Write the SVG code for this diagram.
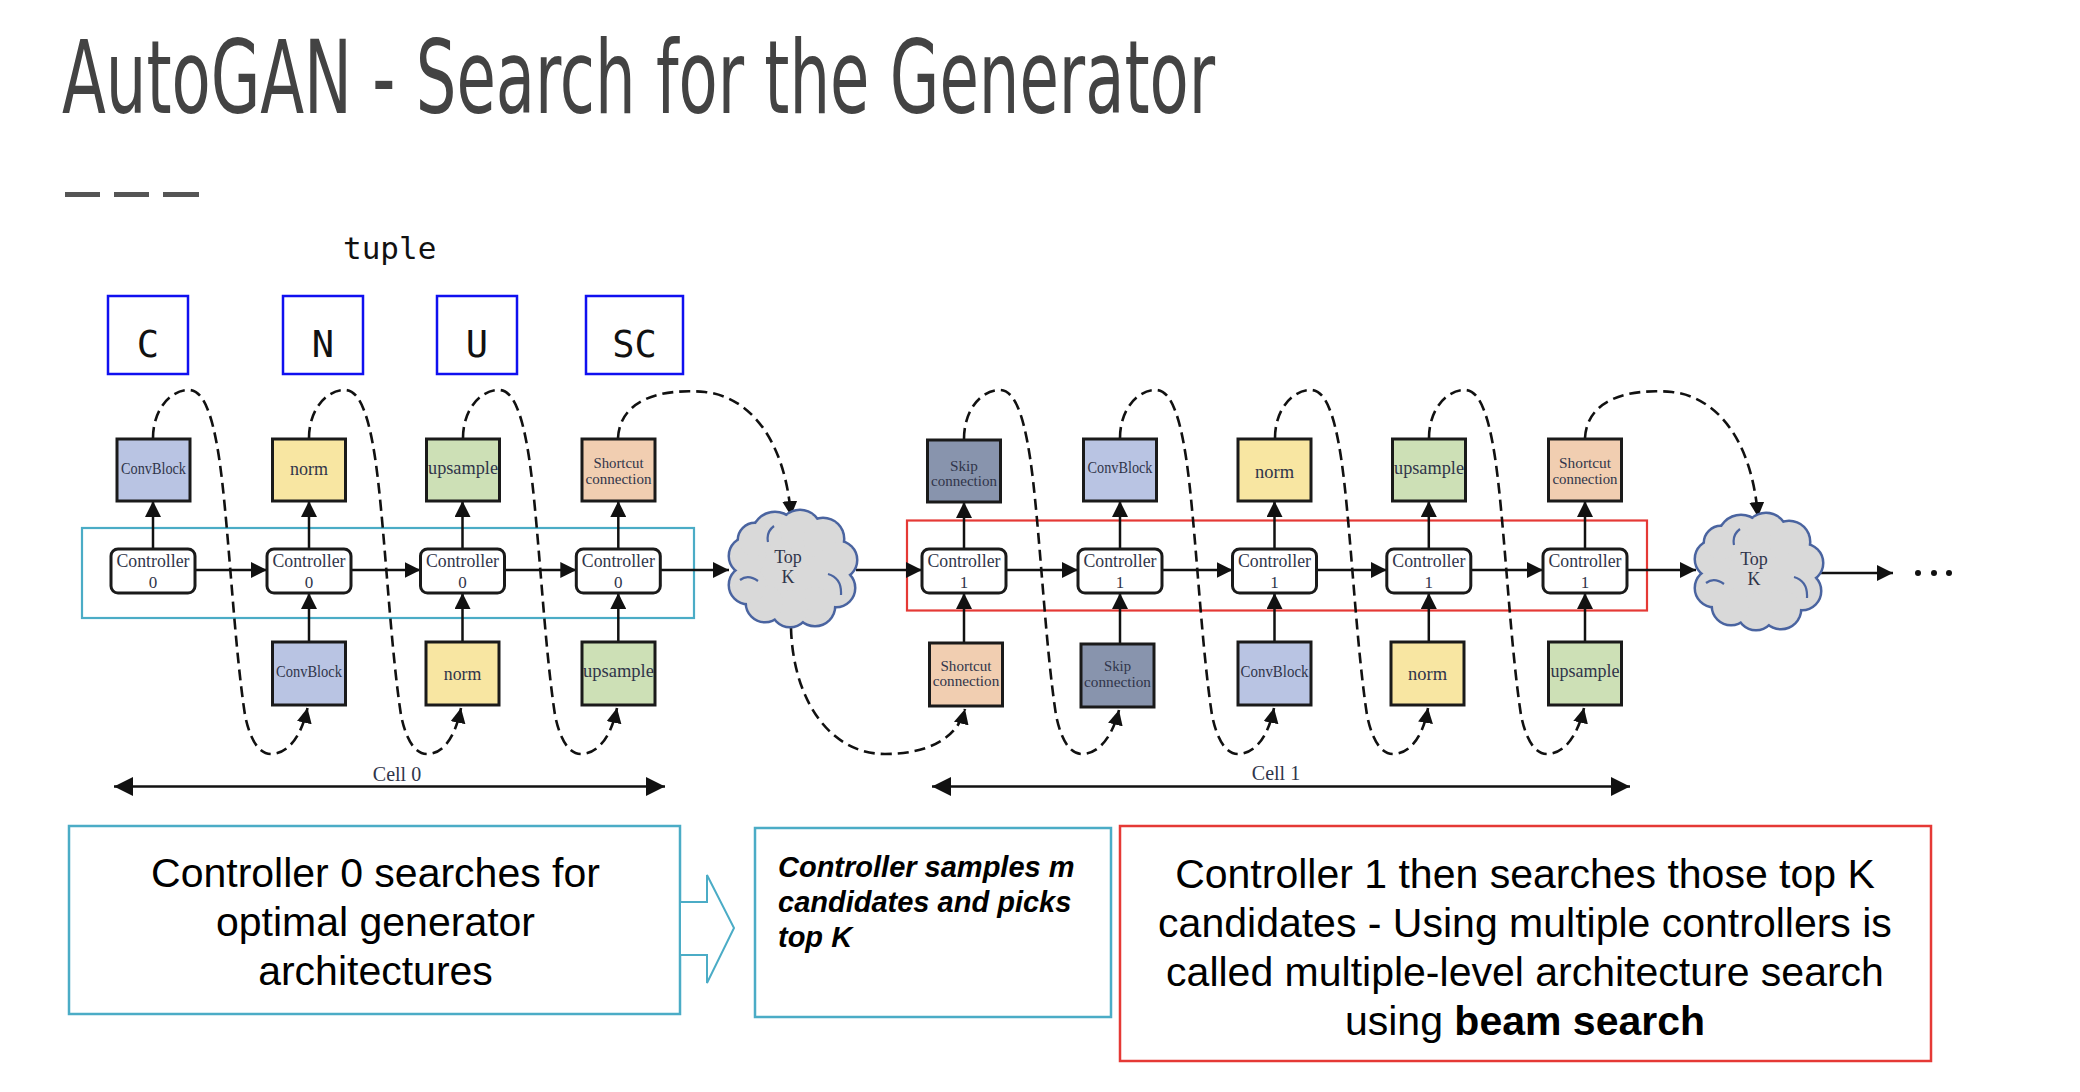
<svg xmlns="http://www.w3.org/2000/svg" xmlns:xlink="http://www.w3.org/1999/xlink" width="2080" height="1092" viewBox="0 0 2080 1092">
<style>
.title{font-family:"Liberation Sans Narrow","DejaVu Sans Condensed","Roboto","Liberation Sans",sans-serif;fill:#434343}
.mono{font-family:"DejaVu Sans Mono","Liberation Mono",monospace;fill:#111}
.tbox{fill:#fff;stroke:#1010f0;stroke-width:2.5}
.blk{stroke:#1a1a1a;stroke-width:3}
.ctrl{fill:#fff;stroke:#1a1a1a;stroke-width:3}
.serif{font-family:"Liberation Serif","DejaVu Serif",serif;fill:#30354a;text-anchor:middle}
.conv{fill:#b9c4e3}
.norm{fill:#f8e6a2}
.up{fill:#cde0b6}
.sc{fill:#f1ceb1}
.skip{fill:#8894ad}
.line{fill:none;stroke:#111;stroke-width:2.5}
.dash{fill:none;stroke:#111;stroke-width:2.6;stroke-dasharray:11 6}
.sans{font-family:"Liberation Sans",Arial,sans-serif;fill:#000}
</style>
<defs>
<marker id="ah" viewBox="0 0 10 10" refX="10" refY="5" markerUnits="userSpaceOnUse" markerWidth="16" markerHeight="16" orient="auto"><path d="M0,0 L10,5 L0,10 z" fill="#111"/></marker>
<marker id="ahd" viewBox="0 0 10 10" refX="10" refY="5" markerUnits="userSpaceOnUse" markerWidth="15" markerHeight="15" orient="auto"><path d="M0,0 L10,5 L0,10 z" fill="#111"/></marker>
<marker id="ahc" viewBox="0 0 10 10" refX="10" refY="5" markerUnits="userSpaceOnUse" markerWidth="19" markerHeight="19" orient="auto-start-reverse"><path d="M0,0 L10,5 L0,10 z" fill="#111"/></marker>
<g id="cloudShape">
<g fill="#d9d9d9" stroke="#4a64a0" stroke-width="5">
<circle cx="0" cy="0" r="44"/><circle cx="-17" cy="-33" r="22"/><circle cx="8" cy="-37" r="20"/><circle cx="31" cy="-29" r="20"/><circle cx="46" cy="-8" r="18"/><circle cx="44" cy="20" r="18"/><circle cx="23" cy="38" r="19"/><circle cx="-2" cy="40" r="18"/><circle cx="-27" cy="35" r="18"/><circle cx="-44" cy="17" r="18"/><circle cx="-44" cy="-12" r="18"/><circle cx="-37" cy="-28" r="16"/>
</g>
<g fill="#d9d9d9">
<circle cx="0" cy="0" r="44"/><circle cx="-17" cy="-33" r="22"/><circle cx="8" cy="-37" r="20"/><circle cx="31" cy="-29" r="20"/><circle cx="46" cy="-8" r="18"/><circle cx="44" cy="20" r="18"/><circle cx="23" cy="38" r="19"/><circle cx="-2" cy="40" r="18"/><circle cx="-27" cy="35" r="18"/><circle cx="-44" cy="17" r="18"/><circle cx="-44" cy="-12" r="18"/><circle cx="-37" cy="-28" r="16"/>
</g>
<path d="M36,6 Q50,10 49,27 M-52,12 Q-44,6 -34,13 M-24,-26 Q-26,-36 -18,-42" fill="none" stroke="#4a64a0" stroke-width="2.2"/>
</g>
</defs>
<rect width="2080" height="1092" fill="#fff"/>

<g id="header">
<text class="title" x="62" y="113" font-size="102" textLength="1153" lengthAdjust="spacingAndGlyphs">AutoGAN - Search for the Generator</text>
<rect x="65" y="192" width="35" height="5" fill="#555"/>
<rect x="114" y="192" width="35" height="5" fill="#555"/>
<rect x="163" y="192" width="36" height="5" fill="#555"/>
<text class="mono" x="343" y="259" font-size="31">tuple</text>
</g>

<g id="tuple-C"><rect class="tbox" x="108" y="296" width="80" height="78"/><text class="mono" x="148" y="357" font-size="37" text-anchor="middle">C</text></g>
<g id="tuple-N"><rect class="tbox" x="283" y="296" width="80" height="78"/><text class="mono" x="323" y="357" font-size="37" text-anchor="middle">N</text></g>
<g id="tuple-U"><rect class="tbox" x="437" y="296" width="80" height="78"/><text class="mono" x="477" y="357" font-size="37" text-anchor="middle">U</text></g>
<g id="tuple-SC"><rect class="tbox" x="586" y="296" width="97" height="78"/><text class="mono" x="634.5" y="357" font-size="37" text-anchor="middle">SC</text></g>

<g id="frames">
<rect x="82" y="528" width="612" height="90" fill="none" stroke="#4bacc6" stroke-width="2.2"/>
<rect x="907" y="520.5" width="740" height="90" fill="none" stroke="#e53935" stroke-width="2.2"/>
</g>

<g id="connectors">
<line class="line" x1="195" y1="570" x2="267" y2="570" marker-end="url(#ah)"/>
<line class="line" x1="351" y1="570" x2="420.5" y2="570" marker-end="url(#ah)"/>
<line class="line" x1="504.5" y1="570" x2="576.3" y2="570" marker-end="url(#ah)"/>
<line class="line" x1="660.3" y1="570" x2="729" y2="570" marker-end="url(#ah)"/>
<line class="line" x1="856" y1="570" x2="922" y2="570" marker-end="url(#ah)"/>
<line class="line" x1="1006" y1="570" x2="1078" y2="570" marker-end="url(#ah)"/>
<line class="line" x1="1162" y1="570" x2="1232.5" y2="570" marker-end="url(#ah)"/>
<line class="line" x1="1316.5" y1="570" x2="1386.8" y2="570" marker-end="url(#ah)"/>
<line class="line" x1="1470.8" y1="570" x2="1543" y2="570" marker-end="url(#ah)"/>
<line class="line" x1="1627" y1="570" x2="1696" y2="570" marker-end="url(#ah)"/>
<line class="line" x1="1821" y1="573" x2="1893" y2="573" marker-end="url(#ah)"/>
<line class="line" x1="153" y1="549" x2="153" y2="501" marker-end="url(#ah)"/>
<line class="line" x1="309" y1="549" x2="309" y2="501" marker-end="url(#ah)"/>
<line class="line" x1="462.5" y1="549" x2="462.5" y2="501" marker-end="url(#ah)"/>
<line class="line" x1="618.3" y1="549" x2="618.3" y2="501" marker-end="url(#ah)"/>
<line class="line" x1="964" y1="549" x2="964" y2="502" marker-end="url(#ah)"/>
<line class="line" x1="1120" y1="549" x2="1120" y2="501" marker-end="url(#ah)"/>
<line class="line" x1="1274.5" y1="549" x2="1274.5" y2="501" marker-end="url(#ah)"/>
<line class="line" x1="1428.8" y1="549" x2="1428.8" y2="501" marker-end="url(#ah)"/>
<line class="line" x1="1585" y1="549" x2="1585" y2="501" marker-end="url(#ah)"/>
<line class="line" x1="309" y1="642" x2="309" y2="593" marker-end="url(#ah)"/>
<line class="line" x1="462.5" y1="642" x2="462.5" y2="593" marker-end="url(#ah)"/>
<line class="line" x1="618.3" y1="642" x2="618.3" y2="593" marker-end="url(#ah)"/>
<line class="line" x1="964" y1="643" x2="964" y2="593" marker-end="url(#ah)"/>
<line class="line" x1="1120" y1="644" x2="1120" y2="593" marker-end="url(#ah)"/>
<line class="line" x1="1274.5" y1="642" x2="1274.5" y2="593" marker-end="url(#ah)"/>
<line class="line" x1="1428.8" y1="642" x2="1428.8" y2="593" marker-end="url(#ah)"/>
<line class="line" x1="1585" y1="642" x2="1585" y2="593" marker-end="url(#ah)"/>
<path class="dash" marker-end="url(#ahd)" d="M153,438 C153,410 170,390 189,390 C205,390 215,420 222,480 C230,550 235,650 245,715 C250,740 259,754 271,754 C287,754 301,738 307.5,708"/>
<path class="dash" marker-end="url(#ahd)" d="M309,438 C309,410 326,390 345,390 C361,390 371,420 378,480 C386,550 391,650 401,715 C406,740 415,754 427,754 C443,754 455,738 461,708"/>
<path class="dash" marker-end="url(#ahd)" d="M463,438 C463,410 480,390 499,390 C515,390 525,420 532,480 C540,550 545,650 555,715 C560,740 569,754 581,754 C597,754 611,738 617,708"/>
<path class="dash" marker-end="url(#ahd)" d="M618,438 C620,400 660,388 705,392 C750,397 785,440 791,516"/>
<path class="dash" marker-end="url(#ahd)" d="M791,628 C793,700 830,754 885,754 C925,754 957,740 965,709"/>
<path class="dash" marker-end="url(#ahd)" d="M964,439 C964,410 981,390 1000,390 C1016,390 1026,420 1033,480 C1041,550 1046,650 1056,715 C1061,740 1070,754 1082,754 C1098,754 1112,738 1119,710"/>
<path class="dash" marker-end="url(#ahd)" d="M1120,438 C1120,410 1137,390 1156,390 C1172,390 1182,420 1189,480 C1197,550 1202,650 1212,715 C1217,740 1226,754 1238,754 C1254,754 1268,738 1274,708"/>
<path class="dash" marker-end="url(#ahd)" d="M1275,438 C1275,410 1292,390 1311,390 C1327,390 1337,420 1344,480 C1352,550 1357,650 1367,715 C1372,740 1381,754 1393,754 C1409,754 1423,738 1428,708"/>
<path class="dash" marker-end="url(#ahd)" d="M1429,438 C1429,410 1446,390 1465,390 C1481,390 1491,420 1498,480 C1506,550 1511,650 1521,715 C1526,740 1535,754 1547,754 C1563,754 1577,738 1584,708"/>
<path class="dash" marker-end="url(#ahd)" d="M1585,438 C1587,400 1627,388 1672,392 C1717,397 1752,440 1758,517"/>
<line class="line" x1="114" y1="786.5" x2="665" y2="786.5" marker-start="url(#ahc)" marker-end="url(#ahc)"/>
<line class="line" x1="932" y1="786.5" x2="1630" y2="786.5" marker-start="url(#ahc)" marker-end="url(#ahc)"/>
</g>

<g id="cell-labels">
<text class="serif" x="397" y="781" font-size="20">Cell 0</text>
<text class="serif" x="1276" y="780" font-size="20">Cell 1</text>
</g>

<g id="r0-top-convblock"><rect class="blk conv" x="117" y="439" width="73" height="62"/><text class="serif" x="153.5" y="474" font-size="16.5" textLength="65" lengthAdjust="spacingAndGlyphs">ConvBlock</text></g>
<g id="r0-top-norm"><rect class="blk norm" x="272.5" y="439" width="73" height="62"/><text class="serif" x="309" y="474.5" font-size="18" textLength="38" lengthAdjust="spacingAndGlyphs">norm</text></g>
<g id="r0-top-upsample"><rect class="blk up" x="426.5" y="439" width="73" height="62"/><text class="serif" x="463" y="473.5" font-size="18" textLength="70" lengthAdjust="spacingAndGlyphs">upsample</text></g>
<g id="r0-top-shortcut"><rect class="blk sc" x="582" y="439" width="73" height="62"/><text class="serif" x="618.5" y="468" font-size="14.5" textLength="50" lengthAdjust="spacingAndGlyphs">Shortcut</text><text class="serif" x="618.5" y="484" font-size="14.5" textLength="66" lengthAdjust="spacingAndGlyphs">connection</text></g>

<g id="r0-ctrl-1"><rect class="ctrl" x="111" y="549" width="84" height="44" rx="7"/><text class="serif" x="153" y="567" font-size="18.5" textLength="73" lengthAdjust="spacingAndGlyphs">Controller</text><text class="serif" x="153" y="587.5" font-size="17">0</text></g>
<g id="r0-ctrl-2"><rect class="ctrl" x="267" y="549" width="84" height="44" rx="7"/><text class="serif" x="309" y="567" font-size="18.5" textLength="73" lengthAdjust="spacingAndGlyphs">Controller</text><text class="serif" x="309" y="587.5" font-size="17">0</text></g>
<g id="r0-ctrl-3"><rect class="ctrl" x="420.5" y="549" width="84" height="44" rx="7"/><text class="serif" x="462.5" y="567" font-size="18.5" textLength="73" lengthAdjust="spacingAndGlyphs">Controller</text><text class="serif" x="462.5" y="587.5" font-size="17">0</text></g>
<g id="r0-ctrl-4"><rect class="ctrl" x="576.3" y="549" width="84" height="44" rx="7"/><text class="serif" x="618.3" y="567" font-size="18.5" textLength="73" lengthAdjust="spacingAndGlyphs">Controller</text><text class="serif" x="618.3" y="587.5" font-size="17">0</text></g>

<g id="r0-bot-convblock"><rect class="blk conv" x="272.5" y="642" width="73" height="63"/><text class="serif" x="309" y="677" font-size="16.5" textLength="66" lengthAdjust="spacingAndGlyphs">ConvBlock</text></g>
<g id="r0-bot-norm"><rect class="blk norm" x="426" y="642" width="73" height="63"/><text class="serif" x="462.5" y="679.5" font-size="18" textLength="37.5" lengthAdjust="spacingAndGlyphs">norm</text></g>
<g id="r0-bot-upsample"><rect class="blk up" x="582" y="642" width="73" height="63"/><text class="serif" x="618.5" y="676.5" font-size="18" textLength="71" lengthAdjust="spacingAndGlyphs">upsample</text></g>

<g id="cloud-1"><use xlink:href="#cloudShape" transform="translate(792,568)"/><text class="serif" x="788" y="563" font-size="18">Top</text><text class="serif" x="788" y="583" font-size="18">K</text></g>
<g id="cloud-2"><use xlink:href="#cloudShape" transform="translate(1758,571)"/><text class="serif" x="1754" y="565" font-size="18">Top</text><text class="serif" x="1754" y="585" font-size="18">K</text></g>

<g id="r1-top-skip"><rect class="blk skip" x="927.5" y="440" width="73" height="62"/><text class="serif" x="964" y="471" font-size="14.5" textLength="28" lengthAdjust="spacingAndGlyphs">Skip</text><text class="serif" x="964" y="486" font-size="14.5" textLength="66" lengthAdjust="spacingAndGlyphs">connection</text></g>
<g id="r1-top-convblock"><rect class="blk conv" x="1083.5" y="439" width="73" height="62"/><text class="serif" x="1120" y="473" font-size="16.5" textLength="65" lengthAdjust="spacingAndGlyphs">ConvBlock</text></g>
<g id="r1-top-norm"><rect class="blk norm" x="1238" y="439" width="73" height="62"/><text class="serif" x="1274.5" y="478" font-size="18" textLength="39" lengthAdjust="spacingAndGlyphs">norm</text></g>
<g id="r1-top-upsample"><rect class="blk up" x="1392.5" y="439" width="73" height="62"/><text class="serif" x="1429" y="473.5" font-size="18" textLength="70" lengthAdjust="spacingAndGlyphs">upsample</text></g>
<g id="r1-top-shortcut"><rect class="blk sc" x="1548.5" y="439" width="73" height="62"/><text class="serif" x="1585" y="468" font-size="14.5" textLength="52" lengthAdjust="spacingAndGlyphs">Shortcut</text><text class="serif" x="1585" y="484" font-size="14.5" textLength="65" lengthAdjust="spacingAndGlyphs">connection</text></g>

<g id="r1-ctrl-1"><rect class="ctrl" x="922" y="549" width="84" height="44" rx="7"/><text class="serif" x="964" y="567" font-size="18.5" textLength="73" lengthAdjust="spacingAndGlyphs">Controller</text><text class="serif" x="964" y="587.5" font-size="17">1</text></g>
<g id="r1-ctrl-2"><rect class="ctrl" x="1078" y="549" width="84" height="44" rx="7"/><text class="serif" x="1120" y="567" font-size="18.5" textLength="73" lengthAdjust="spacingAndGlyphs">Controller</text><text class="serif" x="1120" y="587.5" font-size="17">1</text></g>
<g id="r1-ctrl-3"><rect class="ctrl" x="1232.5" y="549" width="84" height="44" rx="7"/><text class="serif" x="1274.5" y="567" font-size="18.5" textLength="73" lengthAdjust="spacingAndGlyphs">Controller</text><text class="serif" x="1274.5" y="587.5" font-size="17">1</text></g>
<g id="r1-ctrl-4"><rect class="ctrl" x="1386.8" y="549" width="84" height="44" rx="7"/><text class="serif" x="1428.8" y="567" font-size="18.5" textLength="73" lengthAdjust="spacingAndGlyphs">Controller</text><text class="serif" x="1428.8" y="587.5" font-size="17">1</text></g>
<g id="r1-ctrl-5"><rect class="ctrl" x="1543" y="549" width="84" height="44" rx="7"/><text class="serif" x="1585" y="567" font-size="18.5" textLength="73" lengthAdjust="spacingAndGlyphs">Controller</text><text class="serif" x="1585" y="587.5" font-size="17">1</text></g>

<g id="r1-bot-shortcut"><rect class="blk sc" x="929.5" y="643" width="73" height="63"/><text class="serif" x="966" y="670.5" font-size="14.5" textLength="51" lengthAdjust="spacingAndGlyphs">Shortcut</text><text class="serif" x="966" y="686" font-size="14.5" textLength="66.5" lengthAdjust="spacingAndGlyphs">connection</text></g>
<g id="r1-bot-skip"><rect class="blk skip" x="1081" y="644" width="73" height="63"/><text class="serif" x="1117.5" y="671" font-size="14.5" textLength="27" lengthAdjust="spacingAndGlyphs">Skip</text><text class="serif" x="1117.5" y="687" font-size="14.5" textLength="67" lengthAdjust="spacingAndGlyphs">connection</text></g>
<g id="r1-bot-convblock"><rect class="blk conv" x="1238" y="642" width="73" height="63"/><text class="serif" x="1274.5" y="677" font-size="16.5" textLength="68" lengthAdjust="spacingAndGlyphs">ConvBlock</text></g>
<g id="r1-bot-norm"><rect class="blk norm" x="1391" y="642" width="73" height="63"/><text class="serif" x="1427.5" y="679.5" font-size="18" textLength="39" lengthAdjust="spacingAndGlyphs">norm</text></g>
<g id="r1-bot-upsample"><rect class="blk up" x="1548.5" y="642" width="73" height="63"/><text class="serif" x="1585" y="676.5" font-size="18" textLength="69" lengthAdjust="spacingAndGlyphs">upsample</text></g>

<g id="ellipsis">
<circle cx="1918" cy="573" r="3" fill="#111"/><circle cx="1934" cy="573" r="3" fill="#111"/><circle cx="1949" cy="573" r="3" fill="#111"/>
</g>

<g id="note-1">
<rect x="69" y="826" width="611" height="188" fill="#fff" stroke="#4bacc6" stroke-width="2.5"/>
<text class="sans" font-size="41" text-anchor="middle"><tspan x="375.5" y="887">Controller 0 searches for</tspan><tspan x="375.5" y="936">optimal generator</tspan><tspan x="375.5" y="985">architectures</tspan></text>
</g>
<g id="block-arrow">
<polygon points="680,902 707,902 707,875 734,928 707,983 707,955 680,955" fill="#fff" stroke="#4bacc6" stroke-width="2"/>
</g>
<g id="note-2">
<rect x="755" y="828" width="356" height="189" fill="#fff" stroke="#4bacc6" stroke-width="2.5"/>
<text class="sans" font-size="29" font-weight="bold" font-style="italic"><tspan x="778" y="877">Controller samples m</tspan><tspan x="778" y="912">candidates and picks</tspan><tspan x="778" y="947">top K</tspan></text>
</g>
<g id="note-3">
<rect x="1120" y="826" width="811" height="235" fill="#fff" stroke="#e53935" stroke-width="2.5"/>
<text class="sans" font-size="41" text-anchor="middle"><tspan x="1525" y="888">Controller 1 then searches those top K</tspan><tspan x="1525" y="937">candidates - Using multiple controllers is</tspan><tspan x="1525" y="986">called multiple-level architecture search</tspan><tspan x="1525" y="1035">using <tspan font-weight="bold">beam search</tspan></tspan></text>
</g>
</svg>
